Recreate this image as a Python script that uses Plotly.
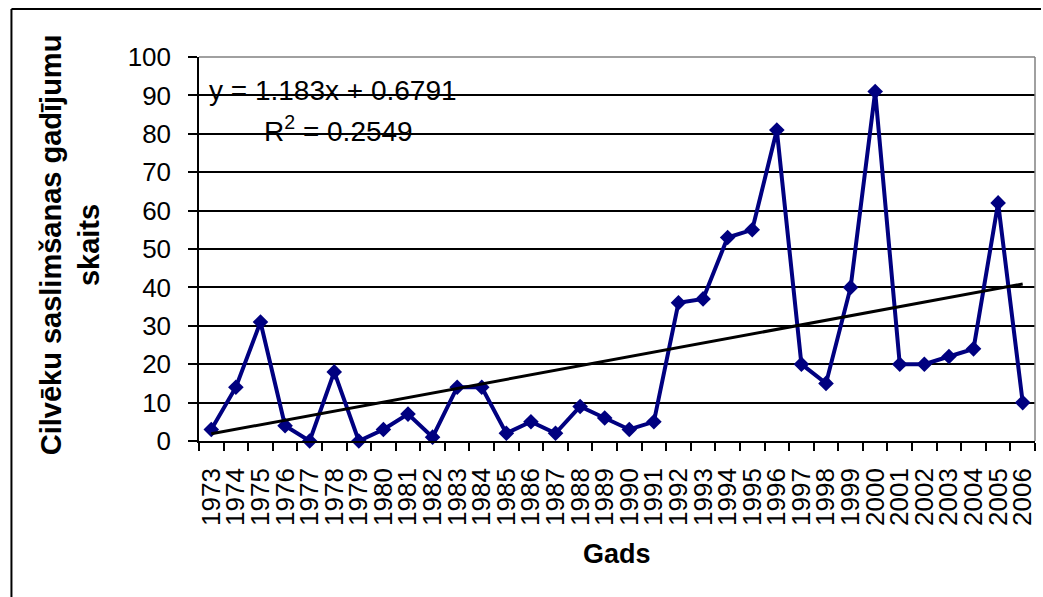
import plotly.graph_objects as go

years = [str(y) for y in range(1973, 2007)]
cases = [3, 14, 31, 4, 0, 18, 0, 3, 7, 1, 14, 14, 2, 5, 2, 9, 6, 3, 5,
         36, 37, 53, 55, 81, 20, 15, 40, 91, 20, 20, 22, 24, 62, 10]
trend_slope = 1.183
trend_intercept = 0.6791
trend_r2 = 0.2549
y_ticks = list(range(0, 101, 10))

trend = [trend_slope * (i + 1) + trend_intercept for i in range(len(years))]

FONT = "Liberation Sans, Arial, sans-serif"

fig = go.Figure()
fig.add_trace(go.Scatter(
    x=years, y=cases, mode="lines+markers",
    line=dict(color="#000080", width=4),
    marker=dict(symbol="diamond", size=12, color="#000080"),
    showlegend=False, cliponaxis=False))
fig.add_trace(go.Scatter(
    x=years, y=trend, mode="lines",
    line=dict(color="black", width=3),
    showlegend=False))

W, H = 1043, 597
plot_l, plot_r, plot_t, plot_b = 199, 1037, 57, 441
ml, mt = plot_l, plot_t
mr, mb = W - plot_r, H - plot_b
pw, ph = plot_r - plot_l, plot_b - plot_t

def px_x(p):
    return (p - plot_l) / pw

def px_y(p):
    return (plot_b - p) / ph

fig.update_layout(
    width=W, height=H,
    margin=dict(l=ml, r=mr, t=mt, b=mb),
    paper_bgcolor="white", plot_bgcolor="white",
    font=dict(family=FONT, color="black", size=26),
    xaxis=dict(type="category", range=[-0.5, len(years) - 0.5],
               tickmode="array", tickvals=years, ticktext=years,
               tickson="boundaries", ticks="outside",
               ticklen=8, tickcolor="black", tickwidth=1.5,
               tickangle=-90, showgrid=False, showline=True,
               linecolor="black", linewidth=1.5,
               tickfont=dict(size=26), ticklabelstandoff=15),
    yaxis=dict(range=[0, 100], tickvals=y_ticks, ticks="outside",
               ticklen=9, tickcolor="black", tickwidth=1.5,
               showgrid=True, gridcolor="black", gridwidth=1.5,
               showline=True, linecolor="black", linewidth=1.5,
               zeroline=False, tickfont=dict(size=26),
               ticklabelstandoff=12),
    shapes=[
        dict(type="line", xref="paper", yref="paper", x0=0, x1=1, y0=1, y1=1,
             line=dict(color="#808080", width=1.5), layer="above"),
        dict(type="line", xref="paper", yref="paper", x0=1, x1=1, y0=0, y1=1,
             line=dict(color="#808080", width=1.5), layer="above"),
        dict(type="line", xref="paper", yref="paper",
             x0=px_x(11), x1=px_x(11), y0=px_y(597), y1=px_y(9),
             line=dict(color="black", width=2)),
        dict(type="line", xref="paper", yref="paper",
             x0=px_x(11), x1=px_x(1043), y0=px_y(9), y1=px_y(9),
             line=dict(color="black", width=2)),
    ],
    annotations=[
        dict(text="y = 1.183x + 0.6791", xref="paper", yref="paper",
             x=px_x(207), y=px_y(90), xanchor="left", yanchor="middle",
             showarrow=False, font=dict(size=28)),
        dict(text="R<sup>2</sup> = 0.2549", xref="paper", yref="paper",
             x=px_x(262), y=px_y(129), xanchor="left", yanchor="middle",
             showarrow=False, font=dict(size=28)),
        dict(text="<b>Cilvēku saslimšanas gadījumu<br>skaits</b>",
             xref="paper", yref="paper", x=px_x(70), y=px_y(245),
             xanchor="center", yanchor="middle", textangle=-90,
             showarrow=False, font=dict(size=29)),
        dict(text="<b>Gads</b>", xref="paper", yref="paper",
             x=px_x(618), y=px_y(554), xanchor="center", yanchor="middle",
             showarrow=False, font=dict(size=27)),
    ],
)

fig.write_html(
    "out.html",
    config={"displayModeBar": False},
    post_script="document.body.style.margin='0';"
                "document.body.style.overflow='hidden';",
)
